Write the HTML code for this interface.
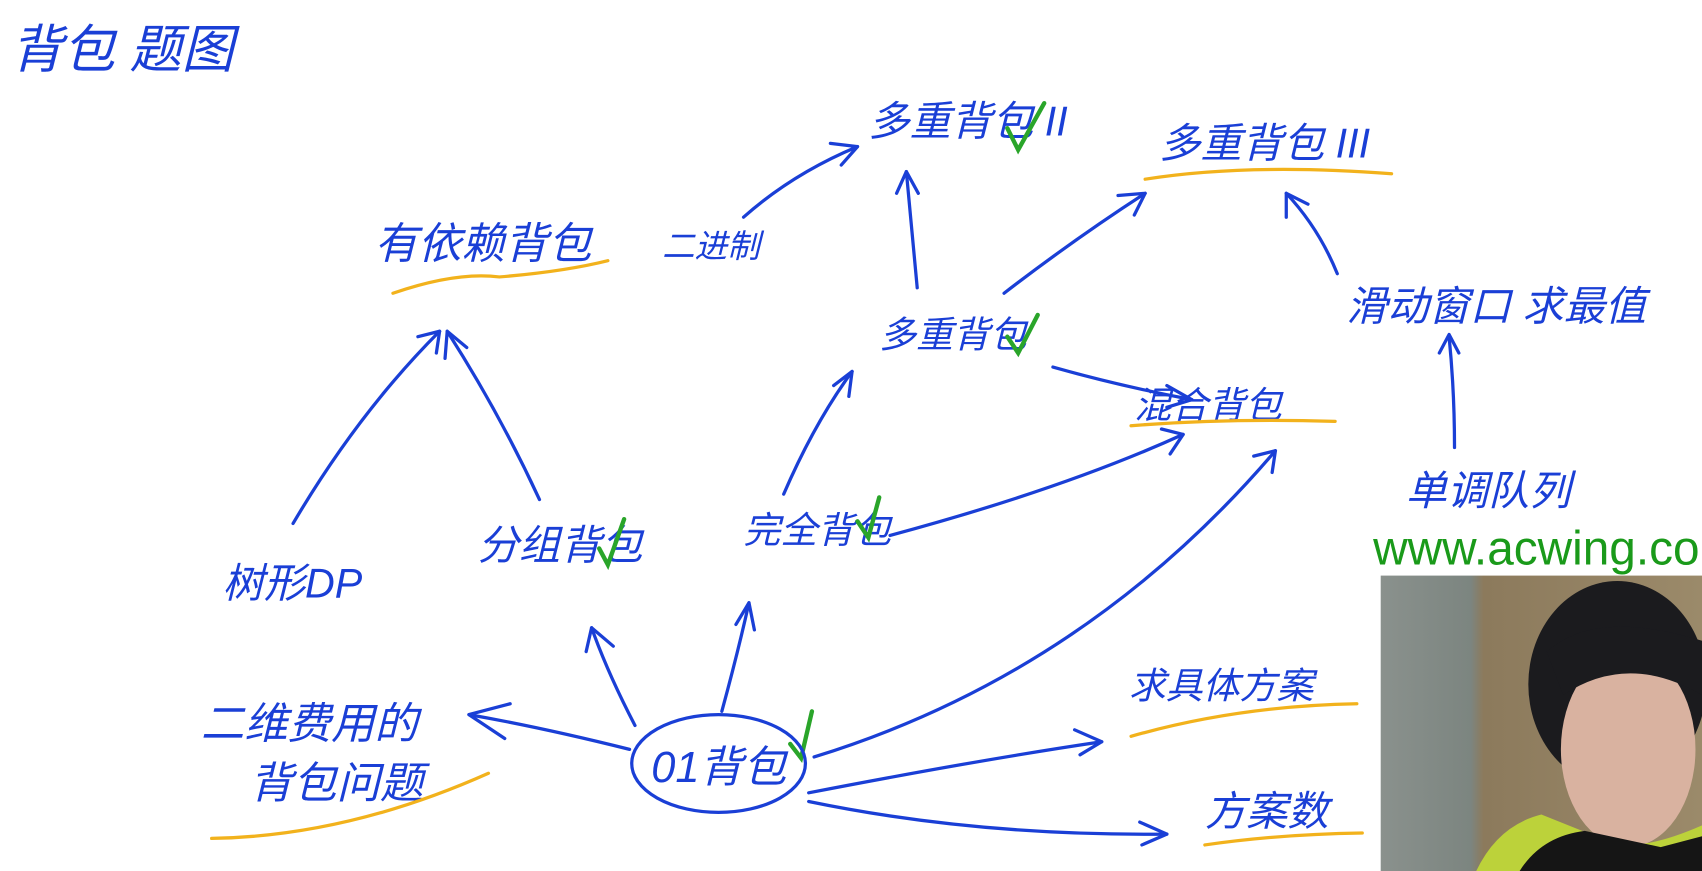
<!DOCTYPE html>
<html><head><meta charset="utf-8"><style>
html,body{margin:0;padding:0;background:#fff;}
svg{display:block}
text{font-family:"Liberation Sans","Noto Sans CJK SC",sans-serif;fill:#1a3fd6;}
</style></head><body>
<svg width="1702" height="871" viewBox="0 0 1568 802" preserveAspectRatio="none" xmlns="http://www.w3.org/2000/svg">
<rect width="1568" height="802" fill="#fff"/>
<g fill="none" stroke="#1a3fd6" stroke-width="3" stroke-linecap="round" stroke-linejoin="round">
<!-- title -->
</g>
<text x="10" y="62" font-size="48" font-style="italic">背包 题图</text>
<!-- labels -->
<text x="800" y="125" font-size="38" font-style="italic">多重背包 II</text>
<text x="1068" y="145" font-size="38" font-style="italic">多重背包 III</text>
<text x="345" y="238" font-size="40" font-style="italic">有依赖背包</text>
<text x="610" y="237" font-size="30" font-style="italic">二进制</text>
<text x="810" y="320" font-size="34" font-style="italic">多重背包</text>
<text x="1045" y="385" font-size="34" font-style="italic">混合背包</text>
<text x="1240" y="295" font-size="38" font-style="italic">滑动窗口 求最值</text>
<text x="1295" y="465" font-size="38" font-style="italic">单调队列</text>
<text x="1265" y="520" font-size="44" style="fill:#1a9a1a">www.acwing.co</text>
<text x="205" y="550" font-size="38" font-style="italic">树形DP</text>
<text x="440" y="515" font-size="38" font-style="italic">分组背包</text>
<text x="685" y="500" font-size="34" font-style="italic">完全背包</text>
<text x="185" y="680" font-size="40" font-style="italic">二维费用的</text>
<text x="230" y="735" font-size="40" font-style="italic">背包问题</text>
<text x="600" y="720" font-size="40" font-style="italic">01背包</text>
<text x="1040" y="643" font-size="34" font-style="italic">求具体方案</text>
<text x="1110" y="760" font-size="38" font-style="italic">方案数</text>
<g fill="none" stroke="#f2b21c" stroke-width="3" stroke-linecap="round">
<path d="M1055 165 Q1150 150 1282 160"/>
<path d="M362 270 Q420 250 460 255 Q520 250 560 240"/>
<path d="M1042 392 Q1130 385 1230 388"/>
<path d="M1042 678 Q1140 650 1250 648"/>
<path d="M1110 778 Q1180 768 1255 767"/>
<path d="M195 772 Q320 770 450 712"/>
</g>
<g fill="none" stroke="#2aa52a" stroke-width="4" stroke-linecap="round">
<path d="M928 118 L938 138 L962 95"/>
<path d="M928 310 L938 325 L956 290"/>
<path d="M552 505 L560 520 L575 478"/>
<path d="M790 480 L800 495 L810 458"/>
<path d="M728 685 L738 698 L748 655"/>
</g>
<g fill="none" stroke="#1a3fd6" stroke-width="3" stroke-linecap="round" stroke-linejoin="round">
<ellipse cx="662" cy="703" rx="80" ry="45"/>
<!-- 01 -> 二维 -->
<path d="M580 690 Q500 670 432 658"/><path d="M470 648 L432 658 L465 680"/>
<!-- 01 -> 分组 -->
<path d="M585 668 Q560 620 545 578"/><path d="M540 600 L545 578 L565 595"/>
<!-- 01 -> 完全 -->
<path d="M665 655 Q680 600 690 555"/><path d="M678 575 L690 555 L695 580"/>
<!-- 01 -> 混合 -->
<path d="M750 697 Q1000 620 1175 415"/><path d="M1155 420 L1175 415 L1172 435"/>
<!-- 01 -> 求具体方案 -->
<path d="M745 730 Q900 700 1015 683"/><path d="M990 672 L1015 683 L995 695"/>
<!-- 01 -> 方案数 -->
<path d="M745 738 Q900 770 1075 768"/><path d="M1050 757 L1075 768 L1052 778"/>
<!-- 树形 -> 有依赖 -->
<path d="M270 482 Q330 380 405 305"/><path d="M385 310 L405 305 L402 325"/>
<!-- 分组 -> 有依赖 -->
<path d="M497 460 Q460 380 412 305"/><path d="M410 330 L412 305 L430 320"/>
<!-- 完全 -> 多重 -->
<path d="M722 455 Q750 390 785 342"/><path d="M768 355 L785 342 L782 365"/>
<!-- 完全 -> 混合 -->
<path d="M820 493 Q980 450 1090 400"/><path d="M1070 395 L1090 400 L1078 418"/>
<!-- 多重 -> 混合 -->
<path d="M970 338 Q1030 355 1098 368"/><path d="M1075 355 L1098 368 L1075 375"/>
<!-- 多重 -> 多重II -->
<path d="M845 265 Q840 210 835 158"/><path d="M826 178 L835 158 L846 178"/>
<!-- 多重 -> 多重III -->
<path d="M925 270 Q990 220 1055 178"/><path d="M1030 180 L1055 178 L1045 198"/>
<!-- 二进制 -> 多重II -->
<path d="M685 200 Q730 160 790 135"/><path d="M765 132 L790 135 L775 152"/>
<!-- 单调 -> 滑动 -->
<path d="M1340 412 Q1340 360 1335 310"/><path d="M1326 325 L1335 308 L1344 325"/>
<!-- 滑动 -> 多重III -->
<path d="M1232 252 Q1215 210 1185 178"/><path d="M1185 200 L1185 178 L1205 188"/>
</g>
<!-- webcam -->
<defs>
<linearGradient id="bg" x1="0" x2="1"><stop offset="0" stop-color="#8a918d"/><stop offset="0.28" stop-color="#7c8580"/><stop offset="0.32" stop-color="#8c7a5c"/><stop offset="1" stop-color="#9b8a6a"/></linearGradient>
</defs>
<rect x="1272" y="530" width="296" height="272" fill="url(#bg)"/>
<ellipse cx="1490" cy="630" rx="82" ry="95" fill="#1b1b1e"/>
<ellipse cx="1500" cy="690" rx="62" ry="90" fill="#d9b2a0"/>
<path d="M1425 600 Q1470 560 1568 590 L1568 640 Q1500 600 1440 640 Z" fill="#1b1b1e"/>
<path d="M1360 802 Q1380 760 1420 750 L1470 770 Q1500 790 1568 760 L1568 802 Z" fill="#bcd23a"/>
<path d="M1400 802 Q1420 770 1460 765 L1530 780 L1568 770 L1568 802 Z" fill="#151515"/>
</svg>
</body></html>
